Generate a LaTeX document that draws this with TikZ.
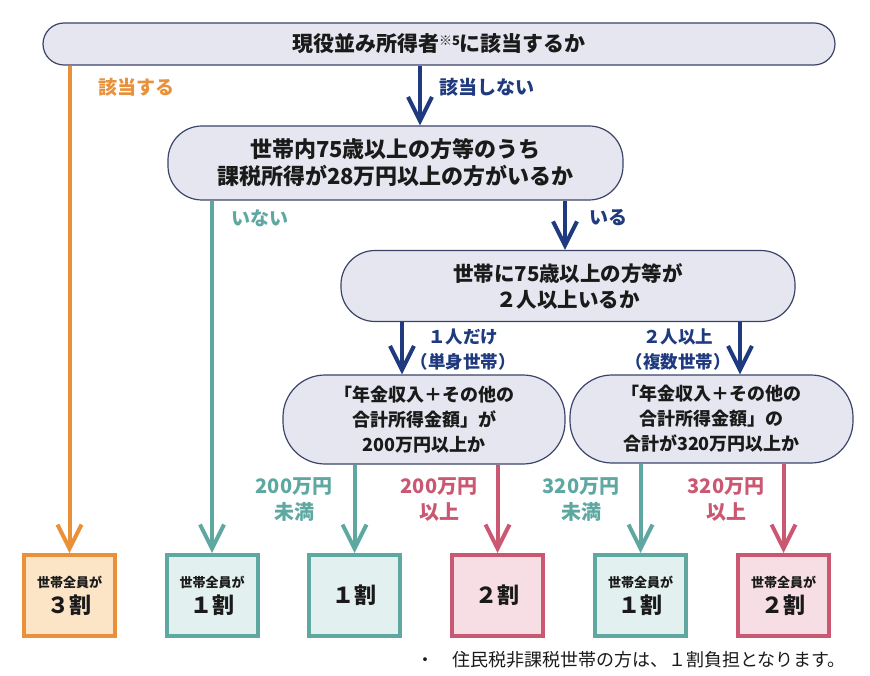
\documentclass[tikz,border=0pt]{standalone}
\usepackage{fontspec}
\setmainfont{Noto Sans CJK JP}
\usetikzlibrary{arrows.meta}

\definecolor{navy}{HTML}{1F3A7E}
\definecolor{qfill}{HTML}{E6E6F0}
\definecolor{qline}{HTML}{3B4468}
\definecolor{orng}{HTML}{E8913A}
\definecolor{orngfill}{HTML}{FCE4C6}
\definecolor{tealc}{HTML}{5EA8A1}
\definecolor{tealfill}{HTML}{E2F1EF}
\definecolor{pinkc}{HTML}{CA5872}
\definecolor{pinkfill}{HTML}{F6DEE4}
\definecolor{ink}{HTML}{1A1A1A}
\newcommand{\fsz}[2]{\fontsize{#1}{#2}\selectfont}

\begin{document}
\begin{tikzpicture}[x=1pt,y=-1pt,
  qnode/.style={draw=qline,line width=1.2pt,fill=qfill,text=ink,align=center,inner sep=0pt},
  ansbox/.style={line width=4pt,minimum width=91pt,minimum height=81pt,inner sep=0pt,align=center,text=ink,font={\bfseries\fsz{13}{26}}},
  arr/.style={line width=4pt,-{Straight Barb[length=24pt,width=24pt]}},
  lbl/.style={font={\bfseries\fsz{19}{26}},align=center,inner sep=0pt}]
\useasboundingbox (0,0) rectangle (870,676);

% questions
\node[qnode,minimum width=792pt,minimum height=42pt,rounded corners=21pt,font={\bfseries\fsz{21}{26}}] (q1) at (439,44)
  {現役並み所得者{\fsz{13}{13}\raisebox{6pt}{※5}}に該当するか};
\node[qnode,minimum width=455pt,minimum height=74pt,rounded corners=34pt,font={\bfseries\fsz{22}{27}}] (q2) at (395.5,163)
  {世帯内75歳以上の方等のうち\\課税所得が28万円以上の方がいるか};
\node[qnode,minimum width=454pt,minimum height=71pt,rounded corners=34pt,font={\bfseries\fsz{20.5}{26}}] (q3) at (568,286)
  {世帯に75歳以上の方等が\\２人以上いるか};
\node[qnode,minimum width=282pt,minimum height=89pt,rounded corners=42pt,font={\bfseries\fsz{18}{25}}] (q4) at (424,419.5)
  {「年金収入＋その他の\\合計所得金額」が\\200万円以上か};
\node[qnode,minimum width=283pt,minimum height=88pt,rounded corners=42pt,font={\bfseries\fsz{18}{25}}] (q5) at (711.5,419)
  {「年金収入＋その他の\\合計所得金額」の\\合計が320万円以上か};

% results
\node[ansbox,draw=orng,fill=orngfill] (r1) at (69.5,595.5) {世帯全員が\\{\fsz{22}{26}３割}};
\node[ansbox,draw=tealc,fill=tealfill] (r2) at (212,595.5) {世帯全員が\\{\fsz{22}{26}１割}};
\node[ansbox,draw=tealc,fill=tealfill,font={\bfseries\fsz{22}{26}}] (r3) at (354.5,595.5) {１割};
\node[ansbox,draw=pinkc,fill=pinkfill,font={\bfseries\fsz{22}{26}}] (r4) at (497.5,595.5) {２割};
\node[ansbox,draw=tealc,fill=tealfill] (r5) at (640.5,595.5) {世帯全員が\\{\fsz{22}{26}１割}};
\node[ansbox,draw=pinkc,fill=pinkfill] (r6) at (783.5,595.5) {世帯全員が\\{\fsz{22}{26}２割}};

% connectors
\draw[arr,orng] (q1.south -| r1.north) -- (r1.north);
\draw[arr,navy] (q1.south -| 420,0) -- (q2.north -| 420,0);
\draw[arr,tealc] (q2.south -| r2.north) -- (r2.north);
\draw[arr,navy] (q2.south -| 565,0) -- (q3.north -| 565,0);
\draw[arr,navy] (q3.south -| 402,0) -- (q4.north -| 402,0);
\draw[arr,navy] (q3.south -| 740,0) -- (q5.north -| 740,0);
\draw[arr,tealc] (q4.south -| r3.north) -- (r3.north);
\draw[arr,pinkc] (q4.south -| r4.north) -- (r4.north);
\draw[arr,tealc] (q5.south -| r5.north) -- (r5.north);
\draw[arr,pinkc] (q5.south -| r6.north) -- (r6.north);

% labels
\node[lbl,text=orng] (l1) at (136.5,87) {該当する};
\node[lbl,text=navy] (l2) at (486.5,87) {該当しない};
\node[lbl,text=tealc] (l3) at (260,218) {いない};
\node[lbl,text=navy] (l4) at (608,218) {いる};
\node[lbl,text=navy,font={\bfseries\fsz{17.5}{25}}] (l5) at (463,349.5) {１人だけ\\（単身世帯）};
\node[lbl,text=navy,font={\bfseries\fsz{17.5}{25}}] (l6) at (678,349.5) {２人以上\\（複数世帯）};
\node[lbl,text=tealc,font={\bfseries\fsz{20}{26}}] (l7) at (294,500) {200万円\\未満};
\node[lbl,text=pinkc,font={\bfseries\fsz{20}{26}}] (l8) at (439,500) {200万円\\以上};
\node[lbl,text=tealc,font={\bfseries\fsz{20}{26}}] (l9) at (581,500) {320万円\\未満};
\node[lbl,text=pinkc,font={\bfseries\fsz{20}{26}}] (l10) at (726,500) {320万円\\以上};

\node[anchor=west,inner sep=0pt,text=ink,font=\fsz{18}{22}] (note) at (416,660) {・　住民税非課税世帯の方は、１割負担となります。};
\end{tikzpicture}
\end{document}
